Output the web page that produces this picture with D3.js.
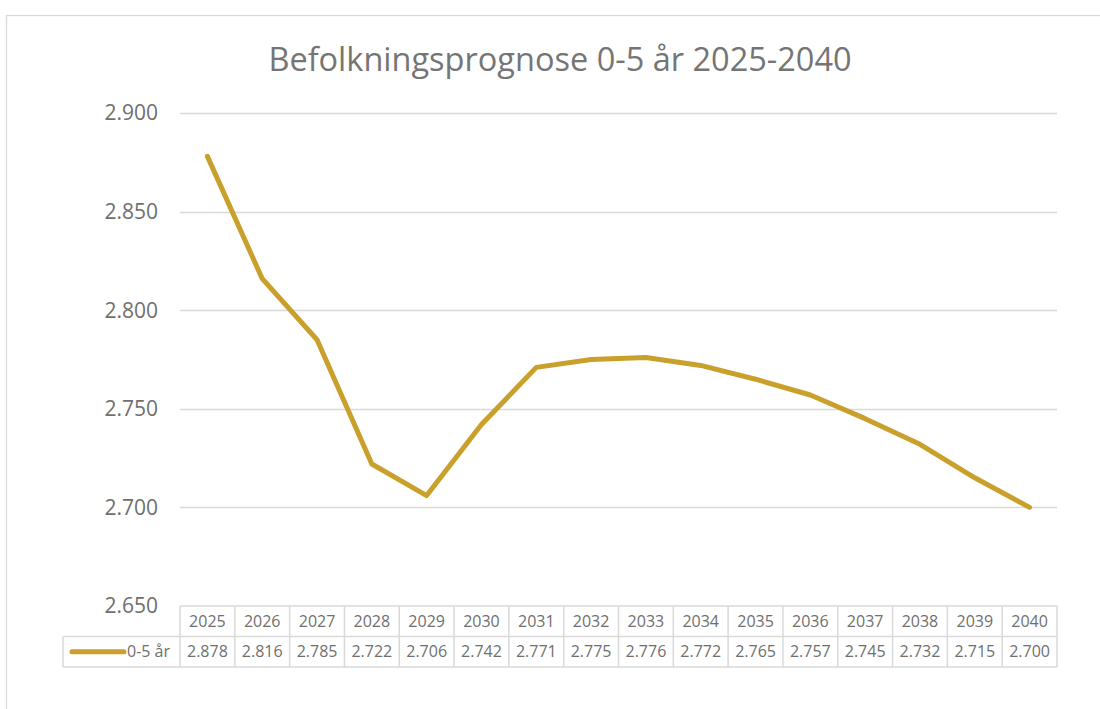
<!DOCTYPE html>
<html>
<head>
<meta charset="utf-8">
<script src="https://cdn.jsdelivr.net/npm/d3@7"></script>
<style>
  body { margin: 0; background: #fff; }
  svg { display: block; font-family: "Open Sans", "Noto Sans", sans-serif; }
</style>
</head>
<body>
<div id="chart"></div>
<script>
// Données
const years = ["2025", "2026", "2027", "2028", "2029", "2030", "2031", "2032",
               "2033", "2034", "2035", "2036", "2037", "2038", "2039", "2040"];
const values = [2878, 2816, 2785, 2722, 2706, 2742, 2771, 2775,
                2776, 2772, 2765, 2757, 2745, 2732, 2715, 2700];
const seriesName = "0-5 år";
const yTicks = [2650, 2700, 2750, 2800, 2850, 2900];
const title = "Befolkningsprognose 0-5 år 2025-2040";

const width = 1100, height = 709;
const lineColor = "#c9a02c";
const gridColor = "#d9d9d9";
const textColor = "#6f6f6f";

const fmt = v => d3.format(",")(v).replace(",", ".");

const svg = d3.select("#chart").append("svg")
    .attr("width", width)
    .attr("height", height);

// cadre du graphique
svg.append("rect")
    .attr("x", 6.5).attr("y", 15.5)
    .attr("width", 1200).attr("height", 800)
    .attr("fill", "none")
    .attr("stroke", gridColor)
    .attr("stroke-width", 1.3);

// titre
svg.append("text")
    .attr("x", 560).attr("y", 71)
    .attr("text-anchor", "middle")
    .style("font-size", "32.5px")
    .style("fill", "#757575")
    .text(title);

const x = d3.scaleBand()
    .domain(years)
    .range([180, 1057]);

const y = d3.scaleLinear()
    .domain([2650, 2900])
    .range([606, 113]);

// grille
svg.append("g")
    .selectAll("line")
    .data(yTicks.slice(1))
    .join("line")
    .attr("x1", 180).attr("x2", 1057)
    .attr("y1", d => Math.round(y(d)) + 0.5)
    .attr("y2", d => Math.round(y(d)) + 0.5)
    .attr("stroke", gridColor)
    .attr("stroke-width", 1.3);

// étiquettes de l'axe Y
svg.append("g")
    .selectAll("text")
    .data(yTicks)
    .join("text")
    .attr("x", 158)
    .attr("y", d => y(d))
    .attr("dy", "0.35em")
    .attr("text-anchor", "end")
    .style("font-size", "21px")
    .style("fill", textColor)
    .text(fmt);

// courbe
const line = d3.line()
    .x((d, i) => x(years[i]) + x.bandwidth() / 2)
    .y(d => y(d));

svg.append("path")
    .datum(values)
    .attr("d", line)
    .attr("fill", "none")
    .attr("stroke", lineColor)
    .attr("stroke-width", 5)
    .attr("stroke-linejoin", "round")
    .attr("stroke-linecap", "round");

// tableau de données
const rowTop = 606, rowH = 30.5, legendLeft = 63;
const table = svg.append("g");

// lignes horizontales
table.append("line")
    .attr("x1", 180).attr("x2", 1057)
    .attr("y1", rowTop).attr("y2", rowTop);
table.append("line")
    .attr("x1", legendLeft).attr("x2", 1057)
    .attr("y1", rowTop + rowH).attr("y2", rowTop + rowH);
table.append("line")
    .attr("x1", legendLeft).attr("x2", 1057)
    .attr("y1", rowTop + 2 * rowH).attr("y2", rowTop + 2 * rowH);

// lignes verticales
const colEdges = years.map(yr => x(yr)).concat([x.range()[1]]);
table.selectAll("line.col")
    .data(colEdges)
    .join("line")
    .attr("class", "col")
    .attr("x1", d => d).attr("x2", d => d)
    .attr("y1", rowTop).attr("y2", rowTop + 2 * rowH);
table.append("line")
    .attr("x1", legendLeft).attr("x2", legendLeft)
    .attr("y1", rowTop + rowH).attr("y2", rowTop + 2 * rowH);

table.selectAll("line")
    .attr("stroke", gridColor)
    .attr("stroke-width", 1.5);

table.selectAll("text.year")
    .data(years)
    .join("text")
    .attr("class", "year")
    .attr("x", d => x(d) + x.bandwidth() / 2)
    .attr("y", rowTop + rowH / 2)
    .attr("dy", "0.35em")
    .attr("text-anchor", "middle")
    .style("font-size", "16px")
    .style("fill", textColor)
    .text(d => d);

table.selectAll("text.val")
    .data(values)
    .join("text")
    .attr("class", "val")
    .attr("x", (d, i) => x(years[i]) + x.bandwidth() / 2)
    .attr("y", rowTop + rowH * 1.5)
    .attr("dy", "0.35em")
    .attr("text-anchor", "middle")
    .style("font-size", "16px")
    .style("fill", textColor)
    .text(fmt);

// légende
table.append("line")
    .attr("x1", 72).attr("x2", 124)
    .attr("y1", rowTop + rowH * 1.5).attr("y2", rowTop + rowH * 1.5)
    .attr("stroke", lineColor)
    .attr("stroke-width", 5)
    .attr("stroke-linecap", "round");
table.append("text")
    .attr("x", 127)
    .attr("y", rowTop + rowH * 1.5)
    .attr("dy", "0.35em")
    .style("font-size", "16px")
    .style("fill", textColor)
    .text(seriesName);
</script>
</body>
</html>
